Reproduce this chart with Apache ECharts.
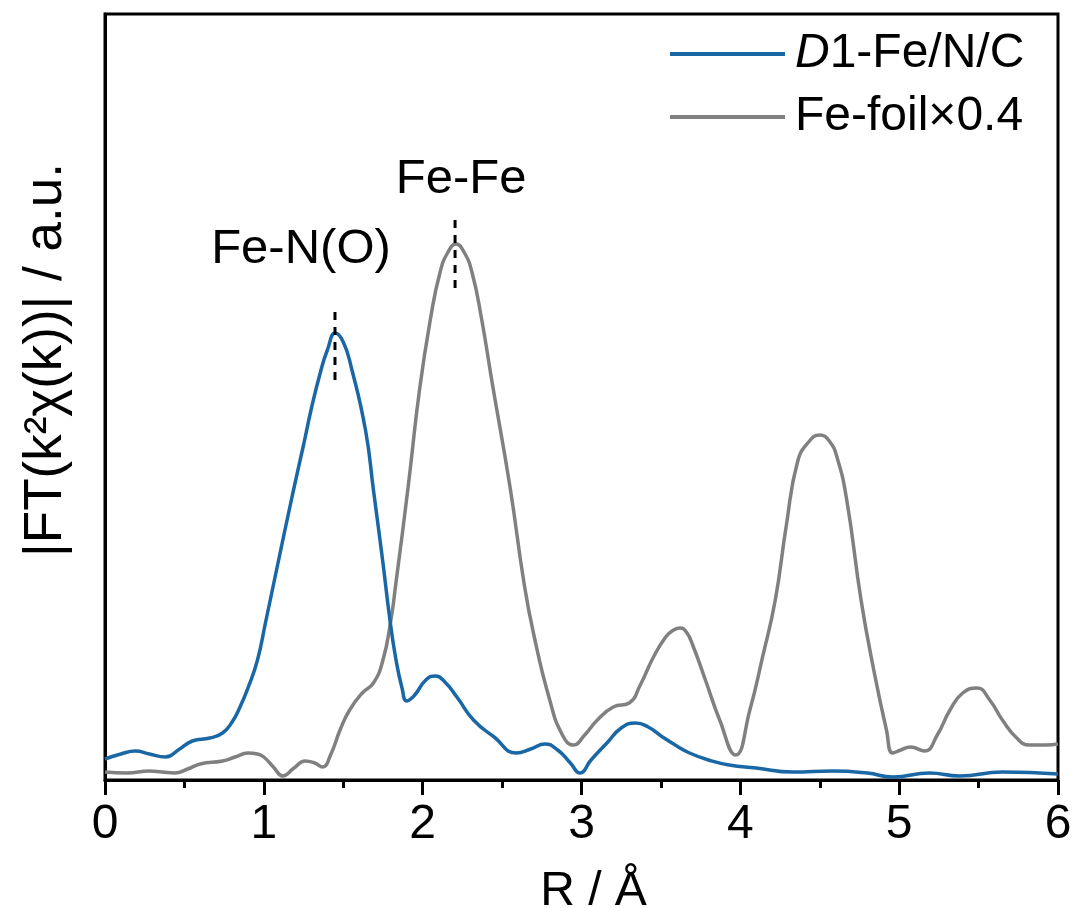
<!DOCTYPE html>
<html>
<head>
<meta charset="utf-8">
<script src="https://cdn.jsdelivr.net/npm/echarts@6/dist/echarts.min.js"></script>
<style>
  html, body { margin: 0; padding: 0; background: #fff; }
  #main { width: 1073px; height: 908px; }
</style>
</head>
<body>
<div id="main"></div>
<script>
// D1-Fe/N/C 曲线 (R / Å , 强度 a.u.)
var rSample = [0.00, 0.10, 0.19, 0.28, 0.38, 0.47, 0.55, 0.66, 0.74, 0.80, 0.85, 0.90, 0.96, 1.01, 1.08, 1.18, 1.25, 1.30, 1.36, 1.40,
    1.45, 1.50, 1.55, 1.64, 1.69, 1.75, 1.79, 1.83, 1.87, 1.90, 1.95, 2.02, 2.08, 2.14, 2.22, 2.32, 2.45, 2.59, 2.68, 2.77,
    2.85, 2.93, 2.99, 3.06, 3.16, 3.25, 3.34, 3.42, 3.51, 3.60, 3.68, 3.80, 3.93, 4.10, 4.33, 4.58, 4.80, 4.96, 5.19, 5.38,
    5.65, 6.00];
var iSample = [21, 26, 29, 26, 23, 31, 39, 42, 47, 58, 73, 92, 120, 157, 210, 285, 335, 372, 410, 430,
    447, 438, 413, 350, 290, 217, 165, 122, 92, 79, 85, 100, 104, 98, 82, 60, 43, 27, 31, 36,
    30, 17, 7, 20, 37, 52, 57, 53, 43, 34, 27, 20, 15, 12, 8, 9, 7, 3, 7, 4,
    8, 6];
// Fe foil ×0.4 曲线
var rFoil = [0.00, 0.14, 0.28, 0.36, 0.44, 0.52, 0.60, 0.74, 0.82, 0.90, 0.96, 1.00, 1.06, 1.12, 1.19, 1.26, 1.32, 1.37, 1.42, 1.48,
    1.54, 1.62, 1.69, 1.75, 1.80, 1.83, 1.91, 1.98, 2.05, 2.11, 2.16, 2.21, 2.26, 2.31, 2.37, 2.44, 2.55, 2.64, 2.70, 2.80,
    2.88, 2.95, 3.02, 3.10, 3.20, 3.30, 3.37, 3.45, 3.53, 3.58, 3.62, 3.66, 3.70, 3.78, 3.87, 3.97, 4.06, 4.14, 4.22, 4.29,
    4.36, 4.43, 4.50, 4.56, 4.61, 4.67, 4.76, 4.84, 4.92, 4.96, 5.01, 5.07, 5.16, 5.24, 5.32, 5.40, 5.49, 5.57, 5.65, 5.74,
    5.82, 5.92, 6.00];
var iFoil = [8, 7, 9, 8, 7, 11, 16, 19, 23, 27, 26, 23, 13, 4, 12, 19, 17, 13, 25, 50,
    70, 87, 97, 120, 160, 195, 295, 390, 462, 508, 528, 536, 528, 508, 462, 395, 293, 195, 145, 80,
    45, 35, 45, 60, 73, 77, 95, 122, 143, 150, 152, 148, 135, 100, 60, 25, 70, 123, 180, 255,
    318, 338, 345, 339, 322, 280, 180, 110, 50, 27, 30, 33, 29, 45, 70, 87, 92, 80, 60, 42,
    35, 35, 36];
// 峰位标注 (虚线)
var peakNames = ['Fe-N(O)', 'Fe-Fe'];
var peakR = [1.448, 2.204];
var peakTop = [468, 560];
var peakBottom = [393, 485];
var xTicks = [0, 1, 2, 3, 4, 5, 6];

(function () {
    var myChart = echarts.init(document.getElementById('main'));
    var font = 'Arial, "Liberation Sans", sans-serif';

    function pairs(xs, ys) {
        return xs.map(function (x, i) { return [x, ys[i]]; });
    }

    // 标注虚线 + 文字
    var markSeries = peakR.map(function (r, i) {
        return {
            name: peakNames[i],
            type: 'line',
            symbol: 'circle',
            symbolSize: 1,
            showSymbol: true,
            silent: true,
            z: 5,
            itemStyle: { color: 'rgba(0,0,0,0)' },
            lineStyle: { color: '#000', width: 3, type: [8, 7] },
            data: [
                {
                    value: [r, peakTop[i]],
                    label: {
                        show: true,
                        position: 'top',
                        distance: i === 0 ? 38 : 16,
                        offset: [i === 0 ? -34 : 6, 0],
                        formatter: peakNames[i],
                        color: '#000',
                        fontSize: 49,
                        fontFamily: font
                    }
                },
                { value: [r, peakBottom[i]], label: { show: false } }
            ]
        };
    });

    var option = {
        animation: false,
        grid: {
            left: 105,
            right: 15,
            top: 14,
            bottom: 128,
            outerBoundsMode: 'none',
            containLabel: false,
            show: true,
            borderColor: '#000',
            borderWidth: 3
        },
        legend: {
            orient: 'vertical',
            left: 670,
            top: 29,
            icon: 'rect',
            itemWidth: 115,
            itemHeight: 4,
            itemGap: 13,
            padding: 0,
            data: ['D1-Fe/N/C', 'Fe-foil×0.4'],
            formatter: function (name) {
                return name === 'D1-Fe/N/C' ? '{i|D}1-Fe/N/C' : name;
            },
            textStyle: {
                fontSize: 48,
                lineHeight: 50,
                color: '#000',
                fontFamily: font,
                padding: [0, 0, 0, 5],
                rich: {
                    i: { fontSize: 48, lineHeight: 50, fontStyle: 'italic', fontFamily: font, color: '#000' }
                }
            }
        },
        xAxis: {
            type: 'value',
            min: 0,
            max: 6,
            interval: 1,
            name: 'R / Å',
            nameLocation: 'middle',
            nameGap: 88,
            nameTextStyle: { fontSize: 48, color: '#000', fontFamily: font, padding: [0, 0, 0, 24] },
            axisLine: { lineStyle: { color: '#000', width: 3 } },
            axisTick: { show: true, inside: false, length: 15, lineStyle: { color: '#000', width: 3 } },
            minorTick: { show: true, splitNumber: 2, length: 8, lineStyle: { color: '#000', width: 3 } },
            axisLabel: {
                color: '#000',
                fontSize: 48,
                fontFamily: font,
                margin: 21,
                formatter: function (v) { return xTicks.indexOf(v) >= 0 ? String(v) : ''; }
            },
            splitLine: { show: false }
        },
        yAxis: {
            type: 'value',
            min: 0,
            max: 766,
            axisLine: { show: true, lineStyle: { color: '#000', width: 3 } },
            axisTick: { show: false },
            axisLabel: { show: false },
            splitLine: { show: false }
        },
        graphic: [{
            type: 'text',
            x: 46,
            y: 360,
            rotation: Math.PI / 2,
            style: {
                text: '|FT(k²χ(k))| / a.u.',
                fontSize: 53,
                fontFamily: font,
                fill: '#000',
                textAlign: 'center',
                textVerticalAlign: 'middle'
            }
        }],
        series: [
            {
                name: 'D1-Fe/N/C',
                type: 'line',
                symbol: 'none',
                smooth: 0.5,
                z: 3,
                lineStyle: { color: '#1a67a6', width: 3.5 },
                itemStyle: { color: '#1a67a6' },
                data: pairs(rSample, iSample)
            },
            {
                name: 'Fe-foil×0.4',
                type: 'line',
                symbol: 'none',
                smooth: 0.5,
                z: 2,
                lineStyle: { color: '#808080', width: 3.5 },
                itemStyle: { color: '#808080' },
                data: pairs(rFoil, iFoil)
            }
        ].concat(markSeries)
    };
    myChart.setOption(option);
    window.addEventListener('resize', function () {
        myChart.resize();
    });
})();
</script>
</body>
</html>
